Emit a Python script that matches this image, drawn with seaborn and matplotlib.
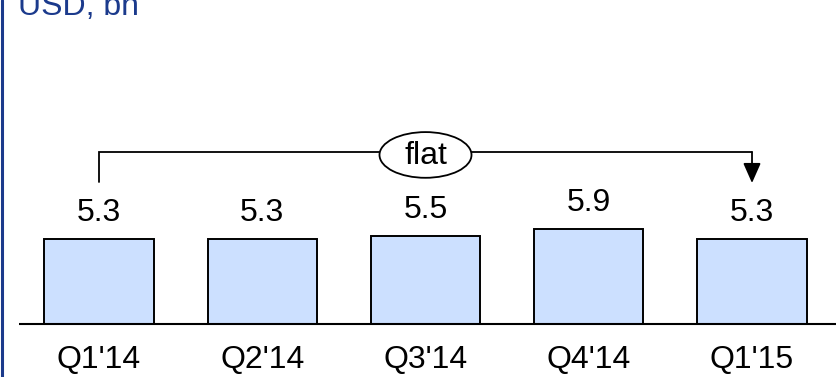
import matplotlib
matplotlib.use("Agg")
import matplotlib.pyplot as plt
from matplotlib.patches import Ellipse, FancyArrowPatch
from matplotlib.lines import Line2D
import seaborn as sns
import pandas as pd

# Quarterly values, USD bn
quarters = ["Q1'14", "Q2'14", "Q3'14", "Q4'14", "Q1'15"]
values = [5.3, 5.3, 5.5, 5.9, 5.3]
unit_label = "USD, bn"
change_label = "flat"

sns.set_style("white")
plt.rcParams["font.family"] = ["Liberation Sans", "DejaVu Sans"]

BAR_FILL = "#CCE0FF"
NAVY = "#1B3A8C"

df = pd.DataFrame({"quarter": quarters, "value": values})

fig = plt.figure(figsize=(8.36, 3.77), dpi=100)
ax = fig.add_axes([0, 0, 1, 1])

sns.barplot(data=df, x="quarter", y="value", order=quarters, color=BAR_FILL,
            saturation=1, width=0.668, edgecolor="black", linewidth=1.4, ax=ax)

ax.set_xlim(-0.6064, 4.5145)
ax.set_ylim(-3.304, 20.2)
ax.axis("off")

# baseline
ax.plot([-0.49, 4.6], [0, 0], color="black", lw=1.5, solid_capstyle="butt",
        clip_on=False, zorder=3)

# value labels above bars
for i, v in enumerate(values):
    ax.annotate(f"{v:.1f}", xy=(i, v), xytext=(0, 13), textcoords="offset points",
                ha="center", va="baseline", fontsize=23, color="black")

# category labels below the baseline
for i, q in enumerate(quarters):
    ax.text(i, -2.74, q, ha="center", va="baseline", fontsize=23, color="black")

# bracket from first to last quarter
first, last = 0, len(values) - 1
level = 10.72
ax.plot([first, first, last], [8.85, level, level], color="black", lw=1.3,
        solid_joinstyle="miter", zorder=4)
arrow = FancyArrowPatch((last, level), (last, 8.79),
                        arrowstyle="-|>,head_length=12.2,head_width=5.4",
                        mutation_scale=1, color="black", lw=1.3,
                        shrinkA=0, shrinkB=0, zorder=4)
ax.add_patch(arrow)

mid = (first + last) / 2
ax.add_patch(Ellipse((mid, 10.54), 0.5636, 2.85, facecolor="white",
                     edgecolor="black", lw=1.3, zorder=5))
ax.text(mid, 10.0, change_label, ha="center", va="baseline", fontsize=23,
        color="black", zorder=6)

# unit caption and left rule
fig.text(18 / 836, 1 - 15 / 377, unit_label, ha="left", va="baseline",
         fontsize=23, color=NAVY)
fig.add_artist(Line2D([1.5 / 836, 1.5 / 836], [0, 1], transform=fig.transFigure,
                      color=NAVY, lw=2.2))

fig.savefig("out.png", dpi=100)
